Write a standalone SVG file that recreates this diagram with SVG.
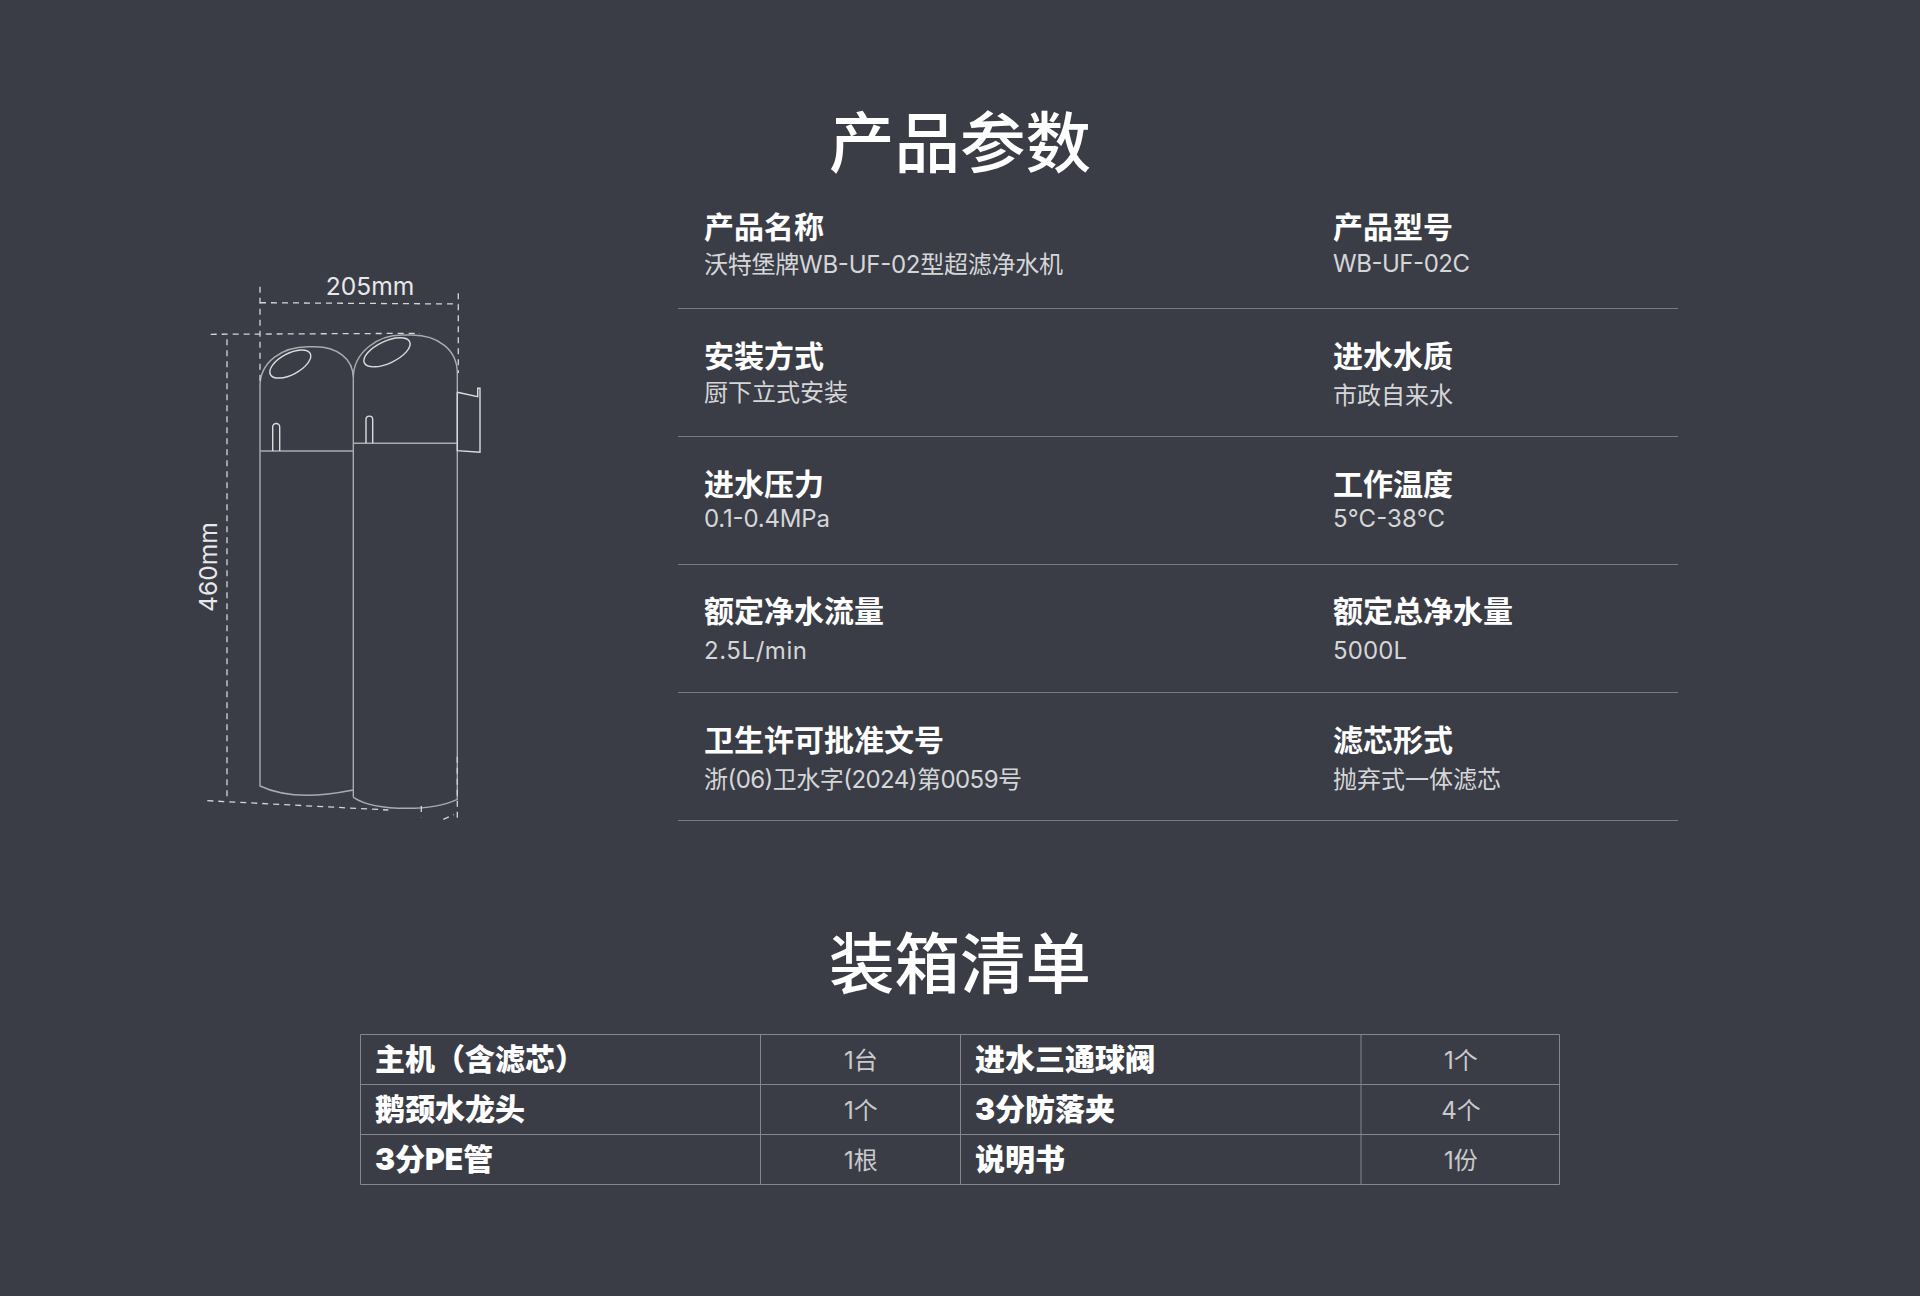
<svg xmlns="http://www.w3.org/2000/svg" width="1920" height="1296" viewBox="0 0 1920 1296">
<style>
text{font-family:"Inter","Noto Sans CJK SC","Noto Sans",sans-serif}
.t{font-size:65.5px;fill:#fff;font-weight:500;text-anchor:middle;font-family:"Noto Sans CJK SC",sans-serif}
.b{font-size:30px;font-weight:700;fill:#fff}
.h{font-size:30px;font-weight:900;fill:#fff}
.s{font-size:24px;fill:#d5d6d8;font-weight:400}
.q{font-size:24px;fill:#c9cacd;text-anchor:middle}
.d{font-size:24.6px;fill:#e8e8ea;text-anchor:middle}
.r{stroke:#787a81;stroke-width:1;fill:none}
.g{stroke:#85878d;stroke-width:1;fill:none}
.c{stroke:#a9abb0;stroke-width:1.4;fill:none}
.w{stroke:#dcdcde;stroke-width:1.4;fill:none}
.x{stroke:#d6d6d8;stroke-width:1.3;fill:none;stroke-dasharray:6 5}
</style>
<rect width="1920" height="1296" fill="#3a3d46"/>
<text class="t" x="960" y="167">产品参数</text>
<text class="t" x="960" y="988">装箱清单</text>
<g id="product-drawing">
<path class="c" d="M260,386C260,362 282,346.7 308,346.7L315,346.7C336,346.7 353.3,358 353.3,378L353.3,797.3M260,386L260,786C275,793 290,795.3 307,795.3C322,795.3 338,793 353.3,790M353.3,378C353.3,352 378,335 402,335L412,335C438,335 457.3,350 457.3,373L457.3,799.3C443,806 425,808.3 407,808.3C385,808.3 365,805 353.3,797.3M260,451L353.3,451M353.3,443.3L457.3,443.3"/>
<ellipse class="w" cx="290.3" cy="364" rx="22.5" ry="10.5" transform="rotate(-28 290.3 364)"/>
<ellipse class="w" cx="387" cy="352.3" rx="25" ry="11" transform="rotate(-25 387 352.3)"/>
<path class="w" d="M272.7,451L272.7,427A3.5,3.5 0 0 1 279.7,427L279.7,451M366,443.3L366,419.5A3.3,3.3 0 0 1 372.7,419.5L372.7,443.3"/>
<path class="w" d="M457.3,392.3L477.7,396.7L477.7,388.3L480,388.3L480,452.3L457.3,450.7L457.3,392.3"/>
<path class="x" d="M260,286.7L260,386M260,302.7L458.3,304M458.3,293.3L458.3,373M210.7,334.3L420,333.3M227,339.3L227,800M207.3,800.7L388.3,810M457.3,756.7L457.3,820M421.3,806L421.3,817.3M443.3,819.3L454,814.7"/>
<text class="d" x="370" y="295">205mm</text>
<text class="d" transform="translate(217 567) rotate(-90)">460mm</text>
</g>
<g id="spec-rules">
<path class="r" d="M678,308.5H1678M678,436.5H1678M678,564.5H1678M678,692.5H1678M678,820.5H1678"/>
</g>
<g id="spec-1"><text class="b" x="704" y="238">产品名称</text><text class="s" x="704" y="273" textLength="359">沃特堡牌WB-UF-02型超滤净水机</text></g>
<g id="spec-2"><text class="b" x="1333" y="238">产品型号</text><text class="s" x="1333" y="272" textLength="137">WB-UF-02C</text></g>
<g id="spec-3"><text class="b" x="704" y="367">安装方式</text><text class="s" x="704" y="401">厨下立式安装</text></g>
<g id="spec-4"><text class="b" x="1333" y="367">进水水质</text><text class="s" x="1333" y="404">市政自来水</text></g>
<g id="spec-5"><text class="b" x="704" y="495">进水压力</text><text class="s" x="704" y="527" textLength="126">0.1-0.4MPa</text></g>
<g id="spec-6"><text class="b" x="1333" y="495">工作温度</text><text class="s" x="1333" y="527" textLength="112">5°C-38°C</text></g>
<g id="spec-7"><text class="b" x="704" y="622">额定净水流量</text><text class="s" x="704" y="659" textLength="103">2.5L/min</text></g>
<g id="spec-8"><text class="b" x="1333" y="622">额定总净水量</text><text class="s" x="1333" y="659" textLength="74">5000L</text></g>
<g id="spec-9"><text class="b" x="704" y="751">卫生许可批准文号</text><text class="s" x="704" y="788" textLength="318">浙(06)卫水字(2024)第0059号</text></g>
<g id="spec-10"><text class="b" x="1333" y="751">滤芯形式</text><text class="s" x="1333" y="788">抛弃式一体滤芯</text></g>
<g id="packing-table">
<path class="g" d="M360.5,1034.5H1559.5M360.5,1084.5H1559.5M360.5,1134.5H1559.5M360.5,1184.5H1559.5M360.5,1034.5V1184.5M760.5,1034.5V1184.5M960.5,1034.5V1184.5M1361,1034.5V1184.5M1559.5,1034.5V1184.5"/>
</g>
<g id="item-1"><text class="h" x="375" y="1070">主机（含滤芯）</text><text class="q" x="861" y="1069">1台</text></g>
<g id="item-2"><text class="h" x="375" y="1120">鹅颈水龙头</text><text class="q" x="861" y="1119">1个</text></g>
<g id="item-3"><text class="h" x="375" y="1170">3分PE管</text><text class="q" x="861" y="1169">1根</text></g>
<g id="item-4"><text class="h" x="975" y="1070">进水三通球阀</text><text class="q" x="1461" y="1069">1个</text></g>
<g id="item-5"><text class="h" x="975" y="1120">3分防落夹</text><text class="q" x="1461" y="1119">4个</text></g>
<g id="item-6"><text class="h" x="975" y="1170">说明书</text><text class="q" x="1461" y="1169">1份</text></g>
</svg>
